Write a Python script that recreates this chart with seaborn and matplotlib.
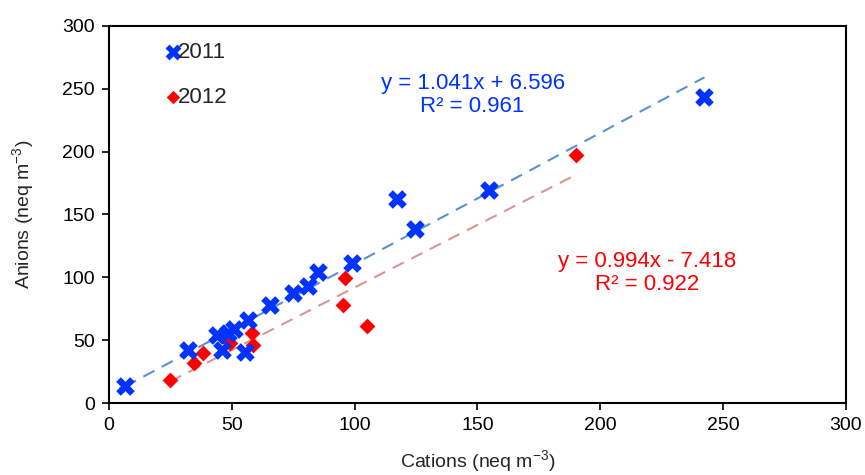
import pandas as pd
import seaborn as sns
import matplotlib.pyplot as plt
import numpy as np

sns.set_style('ticks')
plt.rcParams['font.family'] = ['Liberation Sans', 'DejaVu Sans']
plt.rcParams['mathtext.fontset'] = 'custom'
plt.rcParams['mathtext.rm'] = 'Liberation Sans'

# 2011 数据
cat_2011 = [6.5, 32.3, 43.8, 48.6, 51.0, 45.9, 55.4, 56.5, 65.5, 75.0, 81.1, 85.2, 98.8, 117.1, 124.5, 154.8, 242.4]
an_2011 = [14.1, 42.0, 54.3, 56.0, 59.0, 42.3, 41.0, 66.2, 78.1, 87.6, 93.2, 104.6, 111.2, 162.0, 138.2, 169.5, 243.1]
# 2012 数据
cat_2012 = [24.8, 34.6, 38.4, 49.2, 58.1, 58.7, 96.1, 95.4, 104.9, 190.1]
an_2012 = [18.5, 31.8, 40.0, 47.7, 56.2, 46.3, 99.3, 78.1, 61.4, 197.3]

# 趋势线参数
fit_2011 = (1.041, 6.596, 0.961)
fit_2012 = (0.994, -7.418, 0.922)

df = pd.DataFrame({
    'cations': cat_2011 + cat_2012,
    'anions': an_2011 + an_2012,
    'year': ['2011'] * len(cat_2011) + ['2012'] * len(cat_2012),
})

fig = plt.figure(figsize=(8.65, 4.75), dpi=100)
ax = fig.add_axes([0.126, 0.151, 0.852, 0.795])

# 趋势线
for xs, (k, b, r2), c in [(cat_2011, fit_2011, '#5b8fd9'), (cat_2012, fit_2012, '#d99694')]:
    xx = np.array([min(xs), max(xs)])
    ax.plot(xx, k * xx + b, color=c, lw=1.5, dashes=(6, 4), zorder=1)

sns.scatterplot(data=df[df.year == '2011'], x='cations', y='anions', color='#0033ff',
                marker='X', s=180, linewidth=0, label='2011', ax=ax, zorder=3)
sns.scatterplot(data=df[df.year == '2012'], x='cations', y='anions', color='#ff0000',
                marker='D', s=65, linewidth=0, label='2012', ax=ax, zorder=2)

ax.set_xlim(0, 300)
ax.set_ylim(0, 300)
ax.set_xticks(range(0, 301, 50))
ax.set_yticks(range(0, 301, 50))
ax.tick_params(labelsize=14, length=5, width=1.2, colors='black', pad=5)
for s in ax.spines.values():
    s.set_visible(True)
    s.set_linewidth(1.5)
    s.set_color('black')

ax.set_xlabel(r'Cations (neq m$^{\mathregular{-3}}$)', fontsize=14, labelpad=10)
ax.set_ylabel(r'Anions (neq m$^{\mathregular{-3}}$)', fontsize=14, labelpad=18)

ax.text(148, 245, 'y = 1.041x + 6.596\nR² = 0.961', color='#0033ff', fontsize=16,
        ha='center', va='center', linespacing=1.15)
ax.text(219, 103.5, 'y = 0.994x - 7.418\nR² = 0.922', color='#ff0000', fontsize=16,
        ha='center', va='center', linespacing=1.15)

leg = ax.legend(loc='upper left', bbox_to_anchor=(0.03, 1.01), frameon=False, fontsize=16,
                handletextpad=-0.8, labelspacing=1.1, markerscale=0.85)

plt.savefig('out.png', dpi=100)
